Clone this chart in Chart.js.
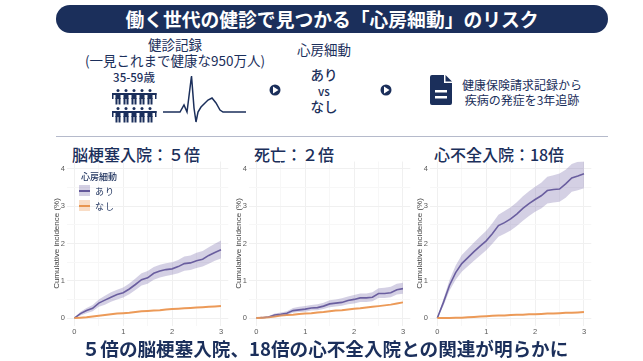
<!DOCTYPE html>
<html lang="ja">
<head>
    <meta charset="UTF-8">
    <title>心房細動のリスク</title>
    <script src="https://cdn.jsdelivr.net/npm/chart.js"></script>
    <style>
        * {
            margin: 0;
            padding: 0;
            box-sizing: border-box;
            font-family: 'Noto Sans CJK JP', sans-serif;
        }

        body {
            width: 643px;
            height: 361px;
            background: white;
            position: relative;
            overflow: hidden;
            color: #1b2f5b;
        }

        .header {
            position: absolute;
            left: 56px;
            top: 5px;
            width: 552px;
            height: 28px;
            background: #1b2f5b;
            border-radius: 14px;
            color: white;
            text-align: center;
            font-size: 18.8px;
            font-weight: 700;
            line-height: 27px;
        }

        .divider {
            position: absolute;
            left: 56px;
            top: 136px;
            width: 552px;
            height: 1px;
            background: #b5bacb;
        }

        .t {
            position: absolute;
            transform: translate(-50%, -50%);
            white-space: nowrap;
            font-size: 13.5px;
            line-height: 1;
        }

        .panel-title {
            font-size: 16px;
            font-weight: 500;
        }

        .icons {
            position: absolute;
            left: 0;
            top: 0;
        }

        .chart-box {
            position: absolute;
            top: 155px;
            width: 178px;
            height: 185px;
        }

        canvas {
            filter: blur(0.35px);
        }

        .swatch {
            position: absolute;
            left: 79px;
            width: 11px;
            height: 11px;
        }

        .swatch i {
            position: absolute;
            left: 0;
            right: 0;
            top: 5px;
            height: 1.5px;
        }
    </style>
</head>
<body>
    <div class="header">働く世代の健診で見つかる「心房細動」のリスク</div>

    <div class="t" style="left:175px;top:45px">健診記録</div>
    <div class="t" style="left:175px;top:61px">(一見これまで健康な950万人)</div>
    <div class="t" style="left:134px;top:78px;font-size:11.5px;font-weight:500">35-59歳</div>
    <div class="t" style="left:324px;top:50px">心房細動</div>
    <div class="t" style="left:324px;top:75px;font-weight:500">あり</div>
    <div class="t" style="left:324px;top:92px;font-size:11.5px;font-weight:500">vs</div>
    <div class="t" style="left:324px;top:107px;font-weight:500">なし</div>
    <div class="t" style="left:522px;top:85px;font-size:12px">健康保険請求記録から</div>
    <div class="t" style="left:522px;top:100px;font-size:12px">疾病の発症を3年追跡</div>

    <svg class="icons" width="643" height="361" viewBox="0 0 643 361">
        <g id="people" fill="#1b2f5b"></g>
        <path d="M163 112 L180 112 L184 105 L187 112 L189 96 L191.5 76 L194 108 L196 122 L198 112 L201 107 L208 100 L212 98 L216 103 L220 110 L223 112 L246 112"
              fill="none" stroke="#1b2f5b" stroke-width="1.5"/>
        <circle cx="275" cy="90" r="5.5" fill="#1b2f5b"/>
        <path d="M273 86.5 L278.5 90 L273 93.5 Z" fill="white"/>
        <circle cx="386" cy="90" r="5.5" fill="#1b2f5b"/>
        <path d="M384 86.5 L389.5 90 L384 93.5 Z" fill="white"/>
        <path d="M432 75 L444 75 L444 83 L452 83 L452 103 Q452 105 450 105 L432 105 Q430 105 430 103 L430 77 Q430 75 432 75 Z" fill="#1b2f5b"/>
        <path d="M445.5 75 L452 81.5 L445.5 81.5 Z" fill="#1b2f5b"/>
        <rect x="435" y="90" width="12" height="2.5" fill="white"/>
        <rect x="435" y="96" width="12" height="2.5" fill="white"/>
    </svg>

    <div class="divider"></div>

    <div class="t panel-title" style="left:136px;top:154px">脳梗塞入院：５倍</div>
    <div class="t panel-title" style="left:294px;top:154px">死亡：２倍</div>
    <div class="t panel-title" style="left:499px;top:154px">心不全入院：18倍</div>

    <div class="chart-box" style="left:52px"><canvas id="stroke"></canvas></div>
    <div class="chart-box" style="left:234px"><canvas id="death"></canvas></div>
    <div class="chart-box" style="left:414.5px"><canvas id="hf"></canvas></div>

    <div class="t" style="left:99px;top:176px;font-size:9px;font-weight:500">心房細動</div>
    <div class="swatch" style="top:185px;background:rgba(122,110,170,.32)"><i style="background:#63589a"></i></div>
    <div class="swatch" style="top:200px;background:rgba(240,165,105,.38)"><i style="background:#e8954f"></i></div>
    <div class="t" style="left:105px;top:191px;font-size:9px;letter-spacing:1px">あり</div>
    <div class="t" style="left:105px;top:206px;font-size:9px;letter-spacing:1px">なし</div>

    <div class="t" style="left:325px;top:348px;font-size:18.6px;font-weight:700">５倍の脳梗塞入院、18倍の心不全入院との関連が明らかに</div>

    <script>
        const years = [0, 0.125, 0.25, 0.375, 0.5, 0.625, 0.75, 0.875, 1, 1.125, 1.25, 1.375, 1.5,
            1.625, 1.75, 1.875, 2, 2.125, 2.25, 2.375, 2.5, 2.625, 2.75, 2.875, 3];
        const yTicks = [0, 0.5, 1, 1.5, 2, 2.5, 3, 3.5, 4];
        const xTicks = [0, 0.5, 1, 1.5, 2, 2.5, 3];

        const strokeAf = [0, 0.12, 0.2, 0.26, 0.4, 0.48, 0.56, 0.63, 0.68, 0.78, 0.9, 1.03, 1.08,
            1.2, 1.26, 1.3, 1.32, 1.38, 1.46, 1.48, 1.54, 1.58, 1.68, 1.76, 1.83];
        const strokeAfLow = [0, 0.07, 0.13, 0.18, 0.3, 0.36, 0.44, 0.5, 0.55, 0.64, 0.75, 0.87, 0.92,
            1.03, 1.09, 1.13, 1.16, 1.2, 1.27, 1.29, 1.34, 1.38, 1.46, 1.54, 1.6];
        const strokeAfHigh = [0, 0.17, 0.27, 0.35, 0.5, 0.6, 0.69, 0.76, 0.82, 0.93, 1.06, 1.2, 1.26,
            1.37, 1.43, 1.47, 1.5, 1.56, 1.65, 1.68, 1.75, 1.8, 1.9, 1.99, 2.08];
        const strokeNone = [0, 0.01, 0.02, 0.04, 0.06, 0.08, 0.1, 0.12, 0.13, 0.14, 0.16, 0.18, 0.19,
            0.2, 0.21, 0.23, 0.24, 0.25, 0.26, 0.27, 0.28, 0.29, 0.3, 0.31, 0.32];

        const deathAf = [0, 0.01, 0.03, 0.08, 0.1, 0.13, 0.2, 0.22, 0.24, 0.27, 0.28, 0.32, 0.38,
            0.4, 0.42, 0.47, 0.5, 0.54, 0.54, 0.56, 0.66, 0.66, 0.68, 0.76, 0.79];
        const deathAfLow = [0, 0, 0.01, 0.04, 0.06, 0.08, 0.14, 0.16, 0.17, 0.2, 0.21, 0.24, 0.29,
            0.31, 0.33, 0.37, 0.39, 0.43, 0.43, 0.45, 0.54, 0.54, 0.56, 0.63, 0.65];
        const deathAfHigh = [0, 0.03, 0.05, 0.12, 0.15, 0.18, 0.27, 0.3, 0.32, 0.35, 0.37, 0.41, 0.48,
            0.5, 0.53, 0.58, 0.62, 0.66, 0.66, 0.69, 0.8, 0.81, 0.84, 0.92, 0.95];
        const deathNone = [0, 0.01, 0.02, 0.04, 0.07, 0.08, 0.09, 0.11, 0.12, 0.13, 0.15, 0.16, 0.18,
            0.2, 0.21, 0.23, 0.25, 0.26, 0.28, 0.3, 0.32, 0.34, 0.36, 0.39, 0.42];

        const hfAf = [0, 0.42, 0.88, 1.22, 1.46, 1.62, 1.78, 1.93, 2.07, 2.26, 2.48, 2.56, 2.66,
            2.79, 2.94, 3.07, 3.18, 3.28, 3.42, 3.45, 3.46, 3.6, 3.76, 3.81, 3.87];
        const hfAfLow = [0, 0.33, 0.74, 1.03, 1.24, 1.39, 1.54, 1.68, 1.82, 1.99, 2.18, 2.26, 2.35,
            2.47, 2.61, 2.74, 2.85, 2.94, 3.07, 3.1, 3.12, 3.23, 3.39, 3.43, 3.48];
        const hfAfHigh = [0, 0.51, 1.02, 1.41, 1.69, 1.86, 2.03, 2.19, 2.34, 2.54, 2.77, 2.87, 2.97,
            3.11, 3.27, 3.4, 3.52, 3.63, 3.79, 3.83, 3.88, 3.98, 4.13, 4.19, 4.23];
        const hfNone = [0, 0, 0, 0.01, 0.01, 0.02, 0.03, 0.04, 0.05, 0.06, 0.07, 0.07, 0.08,
            0.09, 0.09, 0.1, 0.1, 0.11, 0.12, 0.12, 0.13, 0.14, 0.14, 0.15, 0.16];

        function points(values) {
            return values.map((v, i) => ({ x: years[i], y: v }));
        }

        function drawPanel(id, af, low, high, none) {
            new Chart(document.getElementById(id), {
                type: 'line',
                data: {
                    datasets: [
                        { data: points(high), borderWidth: 0, pointRadius: 0, fill: '+1', backgroundColor: 'rgba(122, 110, 170, 0.32)' },
                        { data: points(low), borderWidth: 0, pointRadius: 0, fill: false },
                        { data: points(none), borderColor: '#ec9a58', borderWidth: 2, pointRadius: 0, fill: false },
                        { data: points(af), borderColor: '#63589a', borderWidth: 1.6, pointRadius: 0, fill: false }
                    ]
                },
                options: {
                    responsive: false,
                    animation: false,
                    layout: { padding: { top: 6, right: 1.7 } },
                    plugins: { legend: { display: false }, tooltip: { enabled: false } },
                    scales: {
                        x: {
                            type: 'linear',
                            min: -0.15,
                            max: 3.15,
                            afterBuildTicks: s => { s.ticks = xTicks.map(v => ({ value: v })); },
                            afterFit: s => { s.height = 14.5; },
                            border: { display: false },
                            grid: { color: c => Number.isInteger(c.tick.value) ? '#f0f0f0' : '#f7f7f7', drawTicks: false },
                            ticks: {
                                autoSkip: false,
                                maxRotation: 0,
                                padding: 2,
                                color: '#5a5a5a',
                                font: { size: 7.5, family: 'Liberation Sans' },
                                callback: v => Number.isInteger(v) ? v : ''
                            }
                        },
                        y: {
                            min: -0.2,
                            max: 4.2,
                            afterBuildTicks: s => { s.ticks = yTicks.map(v => ({ value: v })); },
                            afterFit: s => { s.width = 15; },
                            border: { display: false },
                            grid: { color: c => Number.isInteger(c.tick.value) ? '#f0f0f0' : '#f7f7f7', drawTicks: false },
                            title: {
                                display: true,
                                text: 'Cumulative incidence (%)',
                                color: '#444',
                                padding: 0,
                                font: { size: 8, family: 'Liberation Sans' }
                            },
                            ticks: {
                                autoSkip: false,
                                padding: 2,
                                color: '#5a5a5a',
                                font: { size: 7.5, family: 'Liberation Sans' },
                                callback: v => Number.isInteger(v) ? v : ''
                            }
                        }
                    }
                }
            });
        }

        // canvas size comes from the box so the three plots line up
        document.querySelectorAll('canvas').forEach(c => { c.width = 178; c.height = 185; });

        drawPanel('stroke', strokeAf, strokeAfLow, strokeAfHigh, strokeNone);
        drawPanel('death', deathAf, deathAfLow, deathAfHigh, deathNone);
        drawPanel('hf', hfAf, hfAfLow, hfAfHigh, hfNone);

        // little crowd icon under the age label
        const people = document.getElementById('people');
        let crowd = '';
        [93, 111].forEach(y => {
            crowd += `<rect x="112" y="${y}" width="44.5" height="2"/>`;
            crowd += `<rect x="112" y="${y}" width="1.5" height="6"/><rect x="155" y="${y}" width="1.5" height="6"/>`;
            [118, 126, 134, 142, 150].forEach(x => {
                crowd += `<circle cx="${x}" cy="${y - 2.5}" r="1.5"/>`;
                crowd += `<rect x="${x - 2.5}" y="${y}" width="5" height="6"/>`;
                crowd += `<rect x="${x - 2.5}" y="${y + 5}" width="2" height="6.5"/><rect x="${x + 0.5}" y="${y + 5}" width="2" height="6.5"/>`;
            });
        });
        people.innerHTML = crowd;
    </script>
</body>
</html>
